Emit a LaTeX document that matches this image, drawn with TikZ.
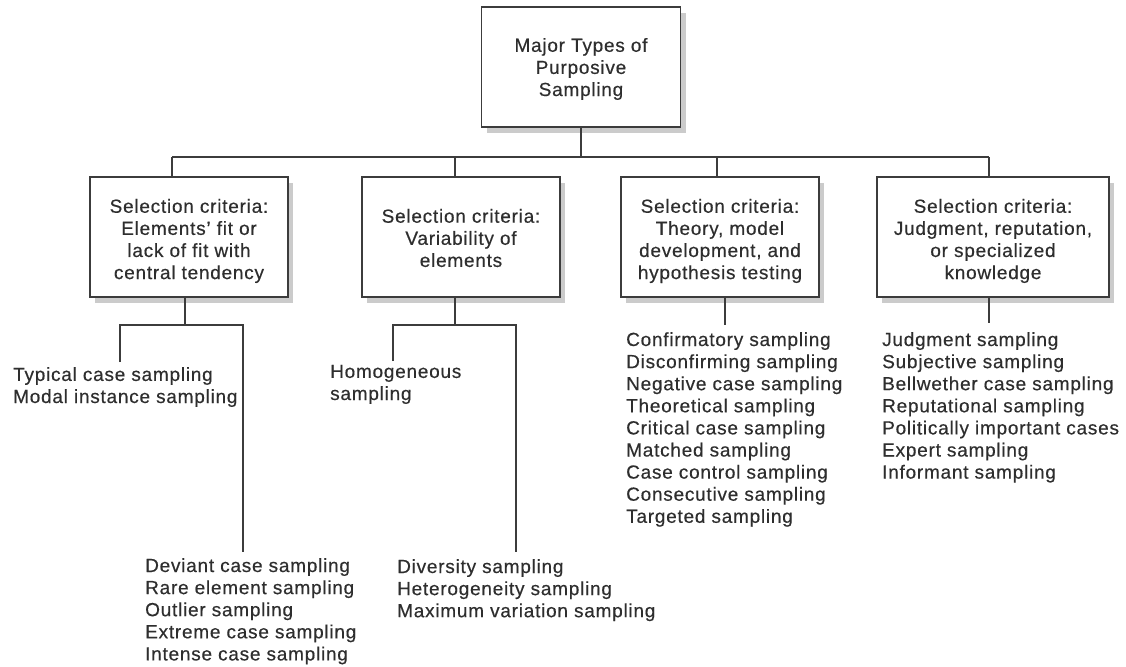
\documentclass[tikz,border=0pt]{standalone}
\usepackage{fontspec}
\setmainfont{Liberation Sans}[LetterSpace=4,FakeBold=0.4]
\usetikzlibrary{shadows}
\definecolor{ink}{HTML}{2E2E2E}
\definecolor{rule}{HTML}{3C3C3C}
\definecolor{shade}{HTML}{CBCBCB}
\begin{document}
\begin{tikzpicture}[x=1pt,y=-1pt,
  every node/.style={text=ink,font=\fontsize{19}{22.1}\selectfont,inner sep=0pt},
  critbox/.style={draw=rule,line width=1.8pt,fill=white,minimum height=120pt,
    drop shadow={shadow xshift=5pt,shadow yshift=-6pt,fill=shade,opacity=1}},
  boxtext/.style={align=center},
  listing/.style={anchor=base west,align=left},
  link/.style={draw=rule,line width=1.6pt}]
\useasboundingbox (0,0) rectangle (1126,666);
\fill[white] (0,0) rectangle (1126,666);

% root and the four selection criteria
\node[critbox,minimum width=199pt] (top) at (581,67) {};
\node[critbox,minimum width=198pt] (c1) at (189,237) {};
\node[critbox,minimum width=198pt] (c2) at (461,237) {};
\node[critbox,minimum width=198pt] (c3) at (720,237) {};
\node[critbox,minimum width=232pt] (c4) at (993,237) {};

\node[boxtext] (topt) at ([yshift=-2pt]top.center) {Major Types of\\Purposive\\Sampling};
\node[boxtext] (c1t) at ([yshift=-4pt]c1.center) {Selection criteria:\\Elements’ fit or\\lack of fit with\\central tendency};
\node[boxtext] (c2t) at ([yshift=-1pt]c2.center) {Selection criteria:\\Variability of\\elements};
\node[boxtext] (c3t) at ([yshift=-4pt]c3.center) {Selection criteria:\\Theory, model\\development, and\\hypothesis testing};
\node[boxtext] (c4t) at ([yshift=-4pt]c4.center) {Selection criteria:\\Judgment, reputation,\\or specialized\\knowledge};

% sampling lists (placed by the baseline of their last line)
\node[listing] (l1a) at (13,403) {Typical case sampling\\Modal instance sampling};
\node[listing] (l1b) at (145,660.4) {Deviant case sampling\\Rare element sampling\\Outlier sampling\\Extreme case sampling\\Intense case sampling};
\node[listing] (l2a) at (330,400) {Homogeneous\\sampling};
\node[listing] (l2b) at (397,617.2) {Diversity sampling\\Heterogeneity sampling\\Maximum variation sampling};
\node[listing] (l3) at (626,522.8) {Confirmatory sampling\\Disconfirming sampling\\Negative case sampling\\Theoretical sampling\\Critical case sampling\\Matched sampling\\Case control sampling\\Consecutive sampling\\Targeted sampling};
\node[listing] (l4) at (882,478.6) {Judgment sampling\\Subjective sampling\\Bellwether case sampling\\Reputational sampling\\Politically important cases\\Expert sampling\\Informant sampling};

% top bus
\coordinate (bus) at (0,157);
\coordinate (t1) at (172,157);
\coordinate (t2) at (455,157);
\coordinate (t3) at (717,157);
\coordinate (t4) at (989,157);
\draw[link] (top.south) -- (top.south |- bus);
\draw[link] (t1) -- (t4);
\foreach \i in {1,...,4} \draw[link] (t\i) -- (t\i |- c\i.north);

% branches under the criteria
\coordinate (d1) at (185,325);
\coordinate (d1l) at (120,325);
\coordinate (d1r) at (243,325);
\coordinate (e1a) at (120,362);
\coordinate (e1b) at (243,552);
\draw[link] (d1 |- c1.south) -- (d1);
\draw[link] (e1a) -- (d1l) -- (d1r) -- (e1b);

\coordinate (d2) at (455,325);
\coordinate (d2l) at (393,325);
\coordinate (d2r) at (516,325);
\coordinate (e2a) at (393,361);
\coordinate (e2b) at (516,552);
\draw[link] (d2 |- c2.south) -- (d2);
\draw[link] (e2a) -- (d2l) -- (d2r) -- (e2b);

\coordinate (d3) at (725,325);
\draw[link] (d3 |- c3.south) -- (d3);
\coordinate (d4) at (989,323);
\draw[link] (d4 |- c4.south) -- (d4);
\end{tikzpicture}
\end{document}
